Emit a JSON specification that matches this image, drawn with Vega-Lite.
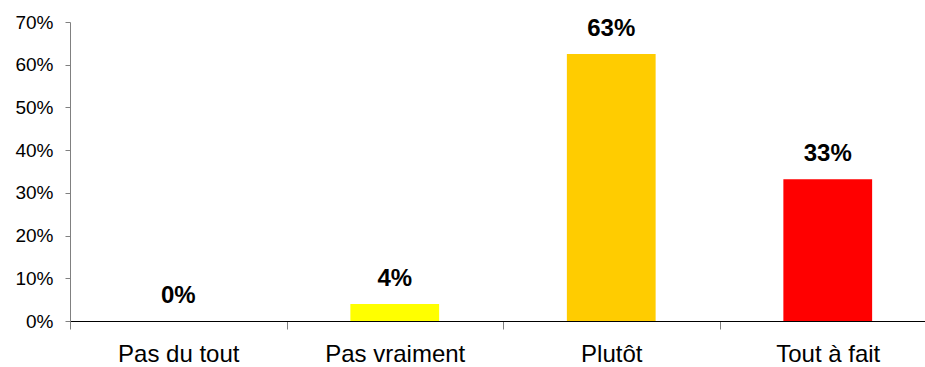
{
  "$schema": "https://vega.github.io/schema/vega-lite/v6.json",
  "width": 855,
  "height": 299,
  "autosize": "none",
  "padding": {"left": 70, "top": 22, "right": 0, "bottom": 46},
  "background": "white",
  "config": {"view": {"stroke": null}, "font": "Liberation Sans"},
  "data": {"values": [
    {"cat": "Pas du tout", "value": 0.0, "label": "0%"},
    {"cat": "Pas vraiment", "value": 0.04, "label": "4%"},
    {"cat": "Plutôt", "value": 0.625, "label": "63%"},
    {"cat": "Tout à fait", "value": 0.332, "label": "33%"}
  ]},
  "encoding": {
    "x": {"field": "cat", "type": "nominal", "sort": null,
      "scale": {"range": [0, 866], "paddingInner": 0, "paddingOuter": 0},
      "axis": {"title": null, "labelAngle": 0, "labelFont": "Liberation Sans", "labelFontSize": 24, "labelColor": "black", "labelPadding": 13, "tickBand": "extent", "tickSize": 8, "tickColor": "#808080", "domainColor": "black", "grid": false}},
    "y": {"field": "value", "type": "quantitative",
      "scale": {"domain": [0, 0.7], "nice": false},
      "axis": {"title": null, "format": ".0%", "values": [0, 0.1, 0.2, 0.3, 0.4, 0.5, 0.6, 0.7], "labelFont": "Liberation Sans", "labelFontSize": 19, "labelColor": "black", "labelPadding": 12, "tickSize": 5, "tickColor": "#808080", "domainColor": "#808080", "grid": false}}
  },
  "layer": [
    {"mark": {"type": "bar", "width": {"band": 0.41}},
     "encoding": {"color": {"field": "cat", "type": "nominal", "sort": null, "legend": null,
       "scale": {"domain": ["Pas du tout", "Pas vraiment", "Plutôt", "Tout à fait"], "range": ["#FFFFFF", "#FFFF00", "#FFCC00", "#FF0000"]}}}},
    {"mark": {"type": "text", "baseline": "alphabetic", "dy": -18, "fontSize": 24, "fontWeight": "bold", "font": "Liberation Sans", "color": "black"},
     "encoding": {"text": {"field": "label"}}}
  ]
}
